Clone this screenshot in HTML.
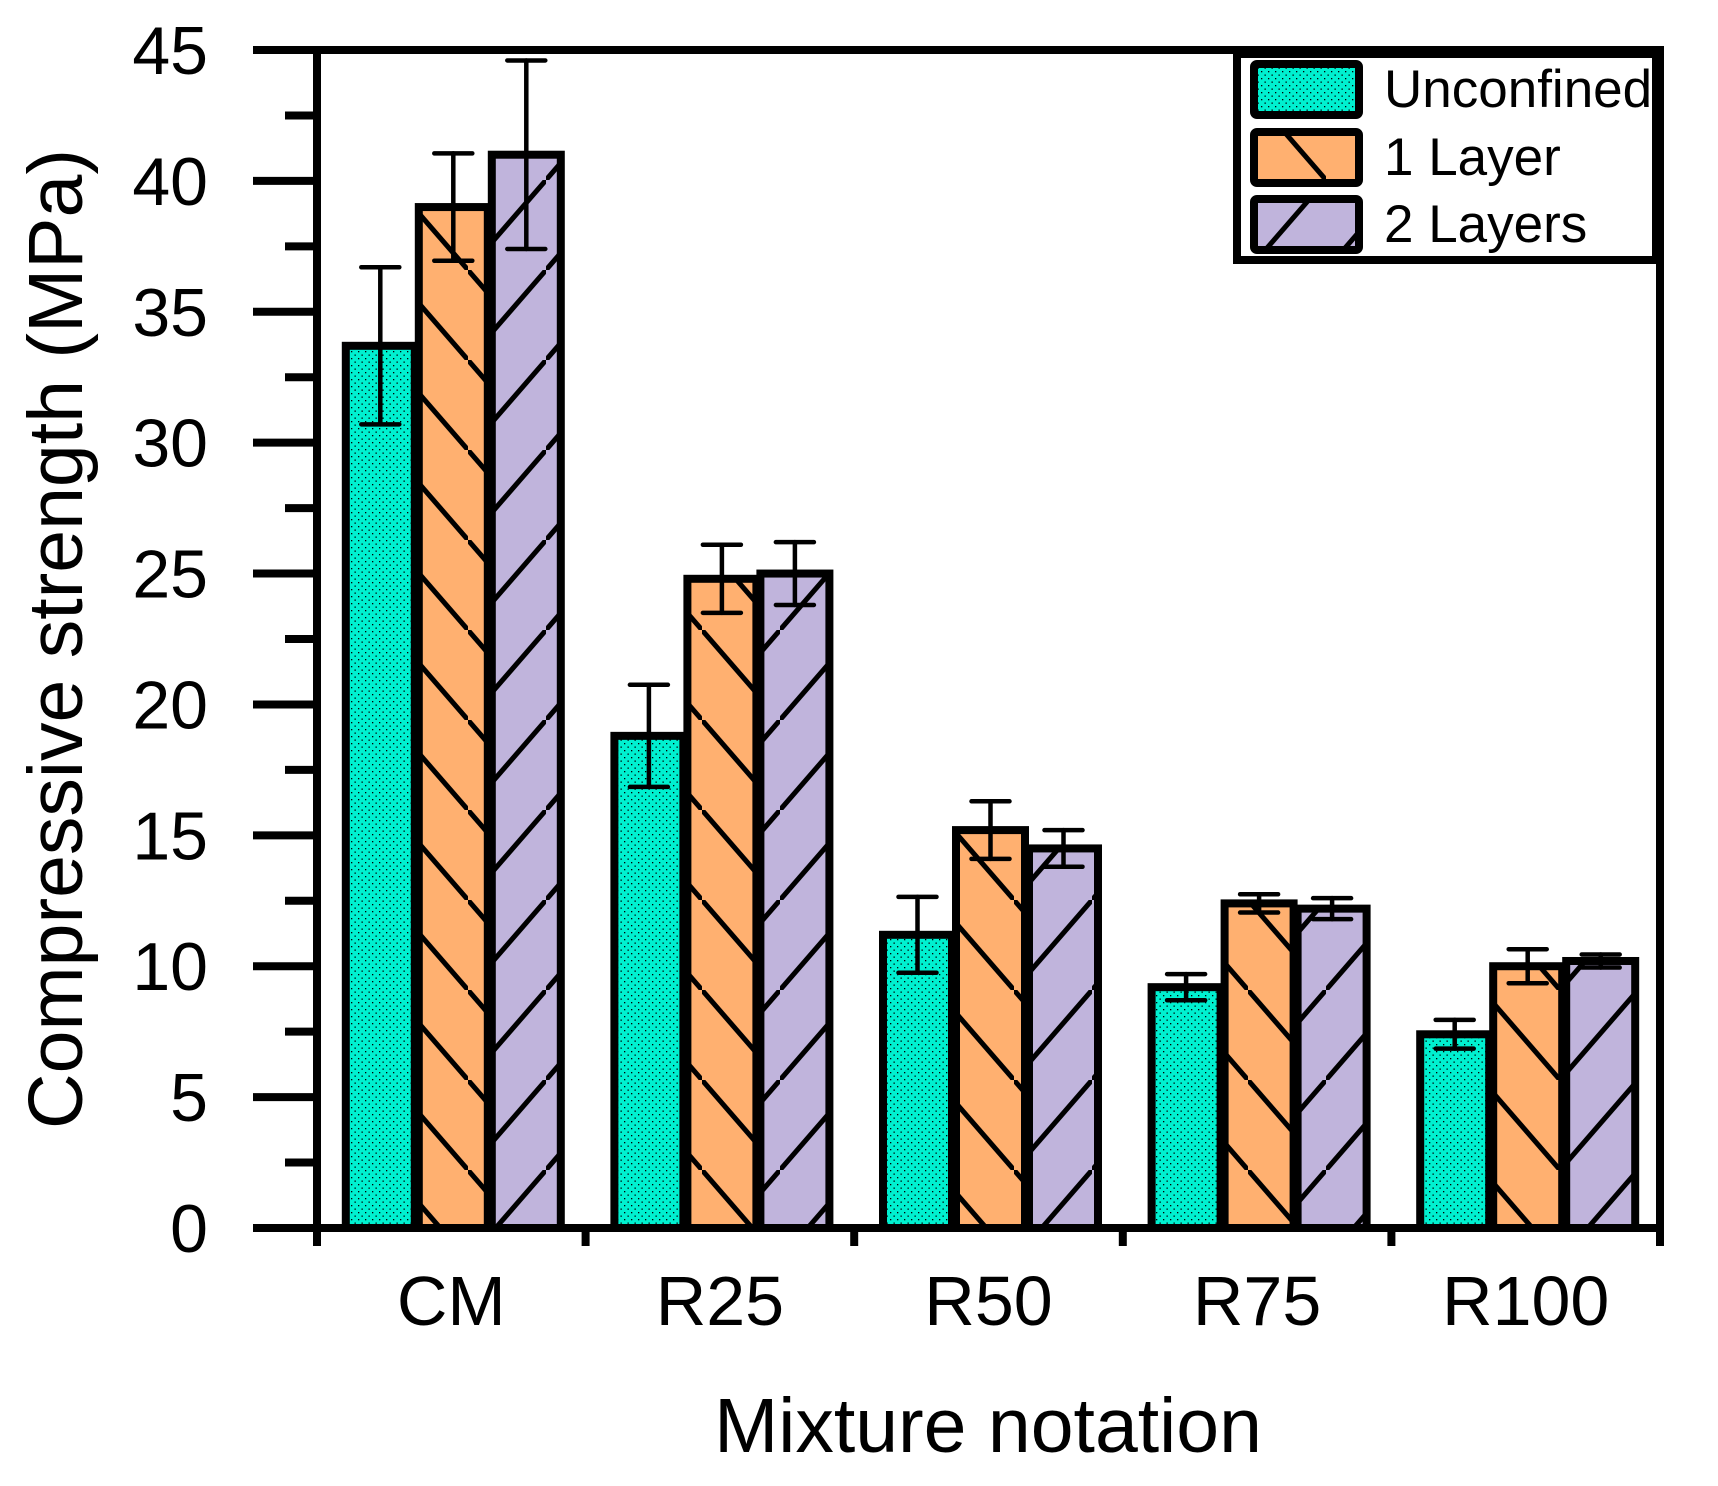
<!DOCTYPE html>
<html><head><meta charset="utf-8"><style>
html,body{margin:0;padding:0;background:#fff;}
svg{display:block;font-family:"Liberation Sans",Arial,sans-serif;}
</style></head><body>
<svg id="chart" width="1718" height="1486" viewBox="0 0 1718 1486">
<defs>
<pattern id="dots" patternUnits="userSpaceOnUse" width="7" height="7">
<rect width="7" height="7" fill="#00F0D0"/><rect x="1" y="1" width="1.3" height="1.3" fill="#000"/><rect x="4.5" y="4.5" width="1.3" height="1.3" fill="#000"/>
</pattern>
<pattern id="back" patternUnits="userSpaceOnUse" width="78" height="90">
<rect width="78" height="90" fill="#FFB070"/><line x1="-2" y1="-2.3" x2="80" y2="92.3" stroke="#000" stroke-width="5"/>
</pattern>
<pattern id="fwd" patternUnits="userSpaceOnUse" width="78" height="90">
<rect width="78" height="90" fill="#C0B4DC"/><line x1="-2" y1="92.3" x2="80" y2="-2.3" stroke="#000" stroke-width="5"/>
</pattern>
</defs>
<g id="bars"></g>
<g id="axes"></g>
<g id="legend">
<rect x="1237" y="54" width="419" height="206" fill="#fff" stroke="#000" stroke-width="8"/>
<rect x="1254" y="64" width="105" height="51" rx="3" fill="url(#dots)" stroke="#000" stroke-width="8"/>
<rect x="1254" y="132" width="105" height="51" rx="3" fill="url(#back)" stroke="#000" stroke-width="8"/>
<rect x="1254" y="199" width="105" height="51" rx="3" fill="url(#fwd)" stroke="#000" stroke-width="8"/>
<text x="1384" y="107" font-size="53">Unconfined</text>
<text x="1384" y="175" font-size="53">1 Layer</text>
<text x="1384" y="242" font-size="53">2 Layers</text>
</g>
<text x="988" y="1452" font-size="77" text-anchor="middle">Mixture notation</text>
<text transform="translate(82,639) rotate(-90)" font-size="77" text-anchor="middle">Compressive strength (MPa)</text>
</svg>
<script>
const categories = ["CM", "R25", "R50", "R75", "R100"];
const seriesNames = ["Unconfined", "1 Layer", "2 Layers"];
const unconfined = [33.7, 18.8, 11.2, 9.2, 7.4];
const oneLayer = [39.0, 24.8, 15.2, 12.4, 10.0];
const twoLayers = [41.0, 25.0, 14.5, 12.2, 10.2];
const unconfinedErr = [3.0, 1.95, 1.45, 0.5, 0.55];
const oneLayerErr = [2.05, 1.3, 1.1, 0.35, 0.65];
const twoLayersErr = [3.6, 1.2, 0.7, 0.4, 0.25];
const yTicks = [0, 5, 10, 15, 20, 25, 30, 35, 40, 45];

const NS = "http://www.w3.org/2000/svg";
const X0 = 317, X1 = 1660, Y0 = 1228, Y1 = 50, YMAX = 45;
const groupW = (X1 - X0) / categories.length;
const barW = 73;
function yScale(v){ return Y0 - (v / YMAX) * (Y0 - Y1); }
function groupX(i){ return X0 + groupW * i; }
function barX(i, s){ return groupX(i) + groupW / 2 - 1.5 * barW + s * barW; }
function mk(tag, attrs, parent){
  const e = document.createElementNS(NS, tag);
  for (const k in attrs) e.setAttribute(k, attrs[k]);
  parent.appendChild(e); return e;
}
const bars = document.getElementById('bars');
const axes = document.getElementById('axes');
const series = [unconfined, oneLayer, twoLayers];
const errs = [unconfinedErr, oneLayerErr, twoLayersErr];
const fills = ["url(#dots)", "url(#back)", "url(#fwd)"];
const keys = ["unconfined", "1-layer", "2-layers"];
categories.forEach((c, i) => {
  series.forEach((arr, s) => {
    const x = barX(i, s), y = yScale(arr[i]);
    const r = mk('rect', {x: x + 4, y: y, width: barW - 4, height: Y0 - y, fill: fills[s], stroke: '#000', 'stroke-width': 8}, bars);
    
    
  });
  series.forEach((arr, s) => {
    const cx = barX(i, s) + barW / 2 + 2;
    const hi = yScale(arr[i] + errs[s][i]), lo = yScale(arr[i] - errs[s][i]);
    const g = mk('g', {stroke: '#000', 'stroke-width': 4.5, 'stroke-linecap': 'round'}, bars);
    
    
    mk('line', {x1: cx, y1: hi, x2: cx, y2: lo}, g);
    mk('line', {x1: cx - 19, y1: hi, x2: cx + 19, y2: hi}, g);
    mk('line', {x1: cx - 19, y1: lo, x2: cx + 19, y2: lo}, g);
  });
  const t = mk('text', {x: groupX(i) + groupW / 2, y: 1325, 'font-size': 70, 'text-anchor': 'middle'}, axes);
  t.textContent = c;
  
  
});
mk('line', {x1: 253, y1: Y0, x2: X1 + 4, y2: Y0, stroke: '#000', 'stroke-width': 8}, axes);
mk('line', {x1: 253, y1: Y1, x2: X1 + 4, y2: Y1, stroke: '#000', 'stroke-width': 8}, axes);
mk('line', {x1: X0, y1: Y1, x2: X0, y2: 1246, stroke: '#000', 'stroke-width': 8}, axes);
mk('line', {x1: X1, y1: Y1, x2: X1, y2: 1246, stroke: '#000', 'stroke-width': 8}, axes);
for (let i = 1; i < categories.length; i++) {
  mk('line', {x1: groupX(i), y1: Y0, x2: groupX(i), y2: 1246, stroke: '#000', 'stroke-width': 8}, axes);
}
yTicks.forEach((v, k) => {
  const y = yScale(v);
  mk('line', {x1: 253, y1: y, x2: X0, y2: y, stroke: '#000', 'stroke-width': 8}, axes);
  if (k < yTicks.length - 1) {
    const ym = yScale(v + 2.5);
    mk('line', {x1: 285, y1: ym, x2: X0, y2: ym, stroke: '#000', 'stroke-width': 8}, axes);
  }
  const t = mk('text', {x: 208, y: y + 24, 'font-size': 68, 'text-anchor': 'end'}, axes);
  t.textContent = v;
  
  
});
</script>
</body></html>
